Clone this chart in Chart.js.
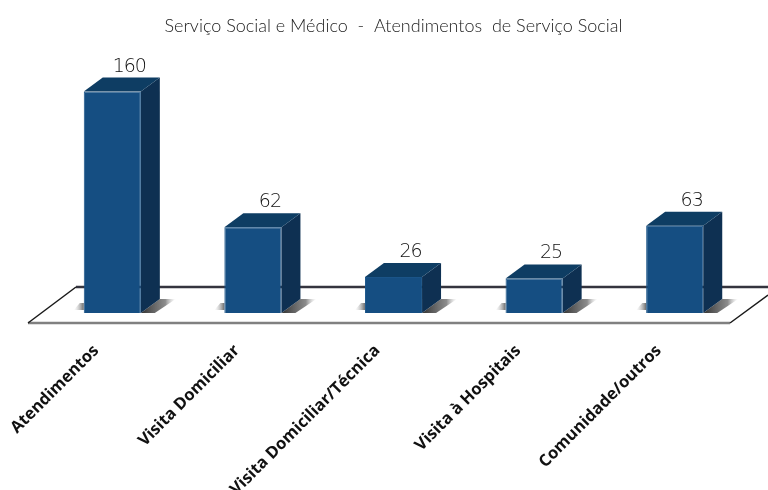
<!DOCTYPE html>
<html>
<head>
<meta charset="utf-8">
<style>
    html, body { margin: 0; padding: 0; background: #fff; overflow: hidden; }
    canvas { display: block; }
</style>
<script src="https://cdn.jsdelivr.net/npm/chart.js@4"></script>
</head>
<body>
<canvas id="chart" width="768" height="490"></canvas>
<script>
const categories = ['Atendimentos', 'Visita Domiciliar', 'Visita Domiciliar/Técnica', 'Visita à Hospitais', 'Comunidade/outros'];
const atendimentos = [160, 62, 26, 25, 63];
const chartTitle = 'Serviço Social e Médico  -  Atendimentos  de Serviço Social';

// depth of the fake 3D extrusion
const depthX = 19;
const depthY = 14;

function drawFloor(ctx, area) {
    const front = area.bottom + 10;
    const back = area.bottom - 26;

    ctx.lineWidth = 2.5;
    ctx.strokeStyle = '#34343e';
    ctx.beginPath();
    ctx.moveTo(area.left + 34, back);
    ctx.lineTo(768, back);
    ctx.stroke();

    ctx.strokeStyle = '#808080';
    ctx.beginPath();
    ctx.moveTo(area.left - 14, front);
    ctx.lineTo(area.right - 15, front);
    ctx.stroke();

    ctx.lineWidth = 1.5;
    ctx.strokeStyle = '#1a1a1a';
    ctx.beginPath();
    ctx.moveTo(area.left - 14, front);
    ctx.lineTo(area.left + 34, back);
    ctx.moveTo(area.right - 15, front);
    ctx.lineTo(768, front - 28);
    ctx.stroke();
}

function drawShadow(ctx, bar, halfWidth) {
    const left = bar.x - halfWidth;
    const right = bar.x + halfWidth;
    const base = bar.base;

    let grad = ctx.createLinearGradient(right, 0, right + depthX + 16, 0);
    grad.addColorStop(0, 'rgba(50,50,50,1)');
    grad.addColorStop(0.7, 'rgba(120,120,120,0.85)');
    grad.addColorStop(1, 'rgba(200,200,200,0)');
    ctx.fillStyle = grad;
    ctx.beginPath();
    ctx.moveTo(right, base);
    ctx.lineTo(right + depthX, base - depthY);
    ctx.lineTo(right + depthX + 16, base - depthY);
    ctx.lineTo(right + 14, base);
    ctx.closePath();
    ctx.fill();

    grad = ctx.createLinearGradient(left - 10, 0, left, 0);
    grad.addColorStop(0, 'rgba(200,200,200,0)');
    grad.addColorStop(1, 'rgba(90,90,90,0.9)');
    ctx.fillStyle = grad;
    ctx.beginPath();
    ctx.moveTo(left, base - 3);
    ctx.lineTo(left, base - 10);
    ctx.lineTo(left - 4, base - 10);
    ctx.lineTo(left - 10, base - 3);
    ctx.closePath();
    ctx.fill();
}

const bar3d = {
    id: 'bar3d',
    beforeDatasetsDraw(chart) {
        const ctx = chart.ctx;
        drawFloor(ctx, chart.chartArea);
        chart.getDatasetMeta(0).data.forEach(function(bar) {
            const half = bar.width / 2;
            const right = bar.x + half;
            const left = bar.x - half;
            drawShadow(ctx, bar, half);

            // side face
            ctx.fillStyle = '#0e3052';
            ctx.beginPath();
            ctx.moveTo(right, bar.y);
            ctx.lineTo(right + depthX, bar.y - depthY);
            ctx.lineTo(right + depthX, bar.base - depthY);
            ctx.lineTo(right, bar.base);
            ctx.closePath();
            ctx.fill();

            // top face
            ctx.fillStyle = '#0e3d63';
            ctx.beginPath();
            ctx.moveTo(left, bar.y);
            ctx.lineTo(left + depthX, bar.y - depthY);
            ctx.lineTo(right + depthX, bar.y - depthY);
            ctx.lineTo(right, bar.y);
            ctx.closePath();
            ctx.fill();
        });
    },
    afterDatasetsDraw(chart) {
        const ctx = chart.ctx;
        ctx.save();
        ctx.fillStyle = '#111111';
        ctx.font = '300 19px "DejaVu Sans"';
        ctx.letterSpacing = '-1px';
        ctx.textAlign = 'center';
        ctx.textBaseline = 'alphabetic';
        chart.getDatasetMeta(0).data.forEach(function(bar, i) {
            ctx.fillText(atendimentos[i], bar.x + 17, bar.y - 20);
        });
        ctx.restore();
    }
};

new Chart(document.getElementById('chart').getContext('2d'), {
    type: 'bar',
    data: {
        labels: categories,
        datasets: [{
            data: atendimentos,
            backgroundColor: '#154e82',
            borderColor: '#1a5488',
            borderWidth: 1,
            barPercentage: 0.406,
            categoryPercentage: 1
        }]
    },
    options: {
        responsive: false,
        animation: false,
        layout: {
            padding: { left: 42, right: 23 }
        },
        plugins: {
            legend: { display: false },
            tooltip: { enabled: false },
            title: {
                display: true,
                text: chartTitle,
                color: '#222222',
                font: { family: 'Lato', size: 18, weight: '300' },
                padding: { top: 15, bottom: 55 }
            }
        },
        scales: {
            x: {
                grid: { display: false, drawTicks: false },
                border: { display: false },
                afterFit: function(scale) {
                    scale.height = 177;
                    scale.paddingLeft = 0;
                    scale.paddingRight = 0;
                },
                ticks: {
                    autoSkip: false,
                    minRotation: 45,
                    maxRotation: 45,
                    labelOffset: -16,
                    padding: 28,
                    color: '#111111',
                    font: { family: '"Open Sans"', size: 16.5, weight: 'bold' }
                }
            },
            y: {
                display: false,
                min: 0,
                max: 160
            }
        }
    },
    plugins: [bar3d]
});
</script>
</body>
</html>
